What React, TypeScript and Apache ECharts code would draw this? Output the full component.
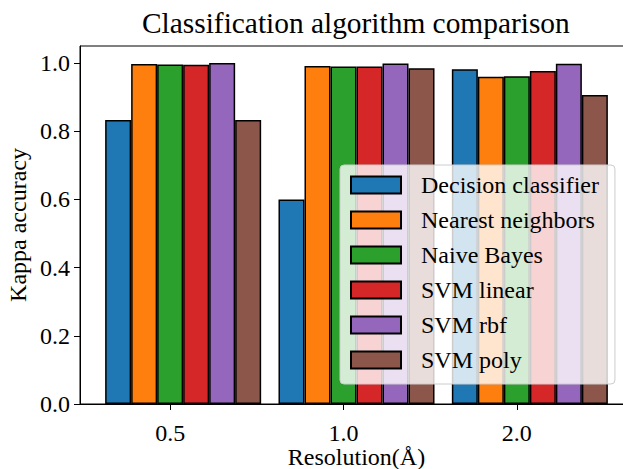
import React, { useEffect, useRef } from "react";
import * as echarts from "echarts";

const resolutions = ["0.5", "1.0", "2.0"];
const seriesNames = [
  "Decision classifier",
  "Nearest neighbors",
  "Naive Bayes",
  "SVM linear",
  "SVM rbf",
  "SVM poly",
];
const decisionClassifier = [0.833, 0.6, 0.982];
const nearestNeighbors = [0.997, 0.991, 0.96];
const naiveBayes = [0.996, 0.99, 0.961];
const svmLinear = [0.995, 0.99, 0.977];
const svmRbf = [1.0, 0.999, 0.998];
const svmPoly = [0.833, 0.985, 0.906];
const seriesValues = [decisionClassifier, nearestNeighbors, naiveBayes, svmLinear, svmRbf, svmPoly];
const colors = ["#1f77b4", "#ff7f0e", "#2ca02c", "#d62728", "#9467bd", "#8c564b"];
const yTicks = [0, 0.2, 0.4, 0.6, 0.8, 1.0];

const BAR_UNIT = 0.15; // bar width in x data units
const xTickPositions = resolutions.map((_, g) => g + 2 * BAR_UNIT);

const FONT = "Liberation Serif, Times New Roman, serif";

export default function App() {
  const ref = useRef<HTMLDivElement>(null);
  useEffect(() => {
    if (!ref.current) return;
    const chart = echarts.init(ref.current, null, { renderer: "svg" });
    chart.setOption({
      animation: false,
      title: {
        text: "Classification algorithm comparison",
        left: 137,
        top: 3,
        textStyle: { fontFamily: FONT, fontSize: 29.4, fontWeight: "normal", color: "#000" },
      },
      grid: {
        left: 80,
        top: 46,
        width: 553,
        height: 358,
        outerBoundsMode: "none",
        containLabel: false,
        show: true,
        borderColor: "#000",
        borderWidth: 1,
        backgroundColor: "transparent",
      },
      legend: {
        orient: "vertical",
        left: 340,
        top: 165,
        padding: [8, 16, 12, 10],
        itemWidth: 50,
        itemHeight: 17,
        itemGap: 11,
        icon: "rect",
        backgroundColor: "rgba(255,255,255,0.8)",
        borderColor: "#cccccc",
        borderWidth: 1,
        borderRadius: 4,
        textStyle: {
          fontFamily: FONT,
          fontSize: 24,
          lineHeight: 24,
          color: "#000",
          padding: [0, 0, 0, 15],
        },
        data: seriesNames,
      },
      xAxis: {
        type: "value",
        min: -0.22,
        max: 2.97,
        name: "Resolution(Å)",
        nameLocation: "middle",
        nameGap: 41,
        nameMoveOverlap: false,
        nameTextStyle: { fontFamily: FONT, fontSize: 24, color: "#000" },
        axisLine: { show: true, onZero: false, lineStyle: { color: "#000", width: 1 } },
        axisTick: { show: true, inside: false, length: 6, lineStyle: { color: "#000" }, customValues: xTickPositions },
        axisLabel: {
          fontFamily: FONT,
          fontSize: 24,
          color: "#000",
          margin: 17,
          customValues: xTickPositions,
          formatter: (v: number) => {
            const idx = xTickPositions.findIndex((p) => Math.abs(p - v) < 1e-6);
            return idx >= 0 ? resolutions[idx] : "";
          },
        },
        splitLine: { show: false },
      },
      yAxis: {
        type: "value",
        min: 0,
        max: 1.05,
        name: "Kappa accuracy",
        nameLocation: "middle",
        nameGap: 50,
        nameMoveOverlap: false,
        nameTextStyle: { fontFamily: FONT, fontSize: 24, color: "#000" },
        axisLine: { show: true, onZero: false, lineStyle: { color: "#000", width: 1 } },
        axisTick: { show: true, inside: false, length: 6, lineStyle: { color: "#000" }, customValues: yTicks },
        axisLabel: {
          fontFamily: FONT,
          fontSize: 24,
          color: "#000",
          margin: 10,
          customValues: yTicks,
          formatter: (v: number) => v.toFixed(1),
        },
        splitLine: { show: false },
      },
      series: seriesNames.map((name, i) => ({
        name,
        type: "bar",
        barWidth: 26,
        barGap: "-100%",
        itemStyle: { color: colors[i], borderColor: "#000", borderWidth: 1.5 },
        data: seriesValues[i].map((v, g) => [g + i * BAR_UNIT, v]),
      })),
    });
    return () => chart.dispose();
  }, []);
  return (
    <div
      ref={ref}
      style={{ position: "fixed", left: 0, top: 0, width: 623, height: 469, overflow: "hidden", background: "#fff" }}
    />
  );
}
